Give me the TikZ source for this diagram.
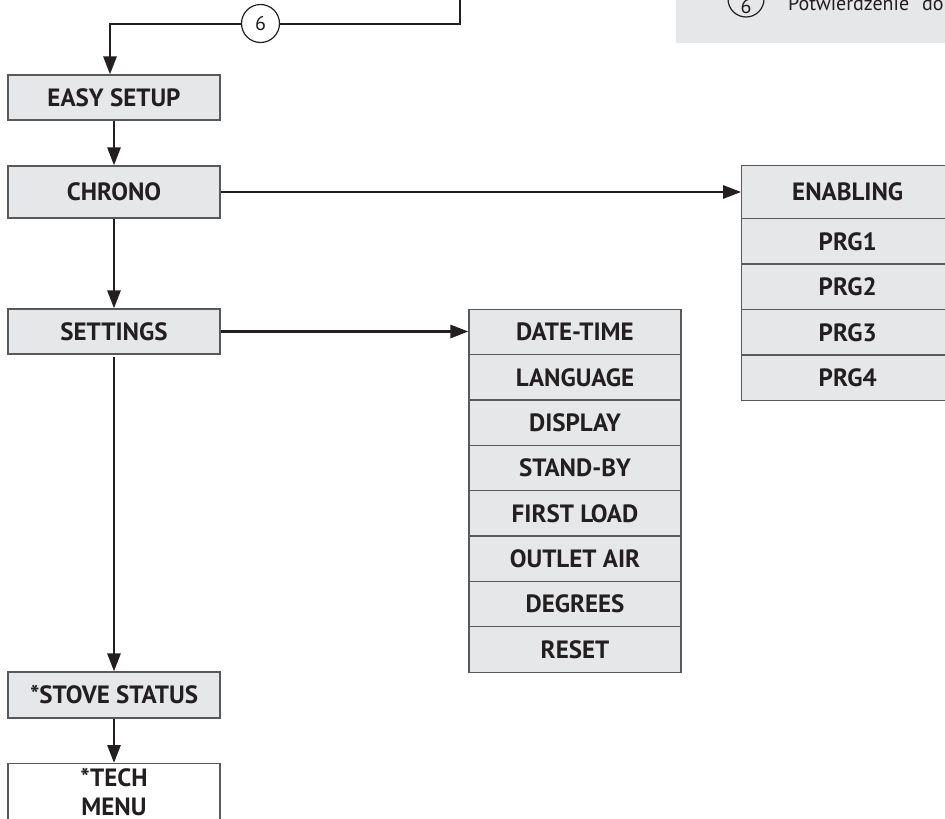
\documentclass[tikz,border=0pt]{standalone}
\usepackage{fontspec}
\setmainfont{PT Sans}
\usetikzlibrary{arrows.meta,calc}
\definecolor{boxfill}{HTML}{E6E7E8}
\definecolor{boxdraw}{HTML}{58595B}
\definecolor{ink}{HTML}{231F20}
\tikzset{
 menubox/.style={draw=boxdraw, line width=1.2pt, fill=boxfill, minimum width=212pt, minimum height=45.35pt, inner sep=0pt, font=\bfseries\fontsize{25}{29}\selectfont, text=ink, align=center},
 menutext/.style={inner sep=0pt, font=\bfseries\fontsize{25}{29}\selectfont, text=ink, align=center},
 conn/.style={draw=ink, line width=2.8pt},
 arr/.style={conn, -{Triangle[length=18pt,width=13pt]}},
 numcirc/.style={circle, draw=ink, line width=1.2pt, fill=white, minimum size=38pt, inner sep=0pt, font=\fontsize{20}{24}\selectfont, text=ink}
}
\begin{document}
\begin{tikzpicture}[x=1pt,y=-1pt]
\useasboundingbox (0,0) rectangle (945,819);
% legend (partly visible)
\fill[boxfill] (676,-5) rectangle (950,42.7);
\node[numcirc, fill=none, minimum size=36pt] (leg6) at (746,-1) {};
\node[anchor=base, inner sep=0pt, font=\fontsize{20}{24}\selectfont, text=ink] (leg6t) at (746,13) {6};
\node[anchor=base west, inner sep=0pt, font=\fontsize{20}{24}\selectfont, text=ink] (legtxt) at (788,10) {Potwierdzenie\hspace{13pt}do};
% left column
\node[menubox, minimum height=45pt] (easy) at (114,97.5) {EASY SETUP};
\node[menubox, minimum height=52pt] (chrono) at (114,192) {CHRONO};
\node[menubox, minimum height=45pt] (settings) at (114,331.5) {SETTINGS};
\node[menubox, minimum height=46pt] (stove) at (114,695) {*STOVE STATUS};
\node[menubox, fill=white, minimum height=75pt, anchor=north] (tech) at (114,763) {};
\node[menutext] (techtxt) at (114,792) {*TECH\\MENU};
% settings submenu
\node[menubox] (dt) at (575,332) {DATE-TIME};
\node[menubox] (lang) at (575,377.35) {LANGUAGE};
\node[menubox] (disp) at (575,422.7) {DISPLAY};
\node[menubox] (stby) at (575,468.05) {STAND-BY};
\node[menubox] (fload) at (575,513.4) {FIRST LOAD};
\node[menubox] (oair) at (575,558.75) {OUTLET AIR};
\node[menubox] (deg) at (575,604.1) {DEGREES};
\node[menubox] (reset) at (575,649.45) {RESET};
% chrono submenu
\node[menubox, minimum height=53pt] (enab) at (847.7,192) {ENABLING};
\node[menubox, minimum height=45.5pt] (prg1) at (847.7,241.25) {PRG1};
\node[menubox, minimum height=45.5pt] (prg2) at (847.7,286.75) {PRG2};
\node[menubox, minimum height=45.5pt] (prg3) at (847.7,332.25) {PRG3};
\node[menubox, minimum height=45.5pt] (prg4) at (847.7,377.75) {PRG4};
% top connector
\coordinate (topin) at (460,-5);
\coordinate (cL) at (110,24);
\draw[arr] (topin) |- (cL) -- (cL |- easy.north);
\node[numcirc] (c6) at (260.5,23.5) {6};
% vertical connectors
\draw[arr] (easy.south) -- (chrono.north);
\draw[arr] (chrono.south) -- (settings.north);
\draw[arr] ($(settings.south)+(0,2)$) -- (stove.north);
\draw[arr] (stove.south) -- (tech.north);
% horizontal connectors
\draw[arr] (chrono.east) -- (chrono.east -| enab.west);
\draw[arr] (settings.east) -- (settings.east -| dt.west);
\end{tikzpicture}
\end{document}
